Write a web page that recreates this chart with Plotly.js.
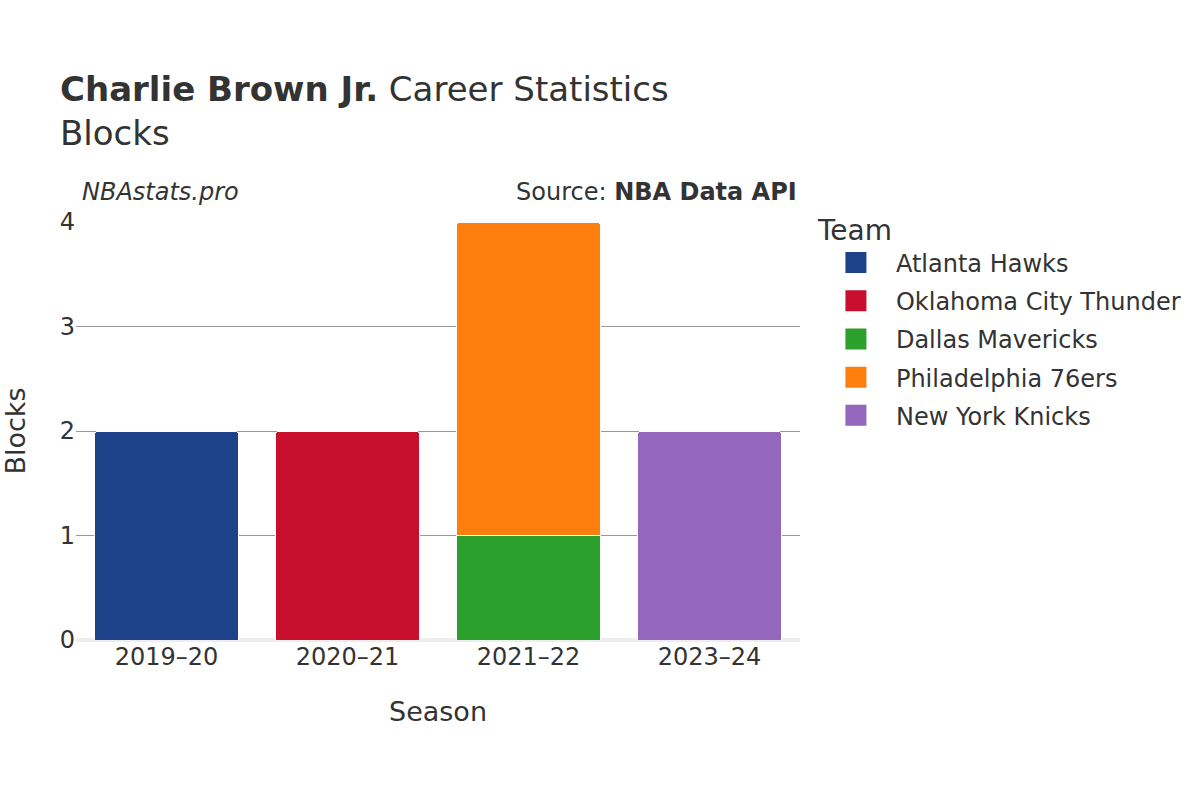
<!DOCTYPE html>
<html>
<head>
<meta charset="utf-8">
<script src="https://cdn.plot.ly/plotly-3.0.1.min.js"></script>
<style>html,body{margin:0;padding:0;background:#fff;}#chart{width:1200px;height:800px;}</style>
</head>
<body>
<div id="chart"></div>
<script>
const seasons = ["2019–20", "2020–21", "2021–22", "2023–24"];
const teams = ["Atlanta Hawks", "Oklahoma City Thunder", "Dallas Mavericks", "Philadelphia 76ers", "New York Knicks"];
const teamColors = ["#1d428a", "#c8102e", "#2ca02c", "#ff7f0e", "#9467bd"];
const teamSeasons = [["2019–20"], ["2020–21"], ["2021–22"], ["2021–22"], ["2023–24"]];
const teamBlocks = [[2], [2], [1], [3], [2]];

const traces = teams.map((t, i) => ({
  type: "bar",
  name: t,
  x: teamSeasons[i],
  y: teamBlocks[i],
  showlegend: false,
  legendgroup: "g" + i,
  marker: {color: teamColors[i], line: {color: "#ffffff", width: 1}},
  hovertemplate: "%{x}: %{y}<extra>" + t + "</extra>"
}));
// legend-only entries (larger square symbols)
teams.forEach((t, i) => traces.push({
  type: "scatter", mode: "markers", name: t,
  legendgroup: "g" + i,
  x: [null], y: [null],
  marker: {color: teamColors[i], symbol: "square", size: 16, line: {color: teamColors[i], width: 5}},
  hoverinfo: "skip"
}));

const font = "DejaVu Sans, sans-serif";
const layout = {
  width: 1200, height: 800,
  barmode: "stack",
  bargap: 0.2,
  barcornerradius: 5,
  paper_bgcolor: "#ffffff",
  plot_bgcolor: "#ffffff",
  font: {family: font, color: "#333333", size: 24},
  margin: {l: 76, r: 400, t: 222, b: 160},
  title: {
    text: "<b>Charlie Brown Jr.</b> Career Statistics<br>Blocks",
    font: {family: font, size: 34, color: "#333333"},
    x: 0.05, xanchor: "left", y: 0.874, yanchor: "top"
  },
  xaxis: {
    categoryorder: "array", categoryarray: seasons,
    title: {text: "Season", font: {size: 27}, standoff: 32},
    tickfont: {size: 24},
    showgrid: false, showline: false, ticks: ""
  },
  yaxis: {
    range: [0, 4.0],
    tickvals: [0, 1, 2, 3, 4],
    title: {text: "Blocks", font: {size: 27}, standoff: 26},
    tickfont: {size: 24},
    gridcolor: "#999999", gridwidth: 1,
    zeroline: true, zerolinecolor: "#eeeeee", zerolinewidth: 4,
    ticks: "", showline: false
  },
  legend: {
    title: {text: "Team", font: {size: 28}},
    font: {size: 24},
    traceorder: "grouped",
    tracegroupgap: 4,
    x: 1.022, xanchor: "left", y: 1.043, yanchor: "top",
    itemwidth: 70
  },
  annotations: [
    {text: "<i>NBAstats.pro</i>", xref: "paper", yref: "paper", x: 0.006, y: 1.072, xanchor: "left", yanchor: "middle", showarrow: false, font: {size: 24, color: "#333333"}},
    {text: "Source: <b>NBA Data API</b>", xref: "paper", yref: "paper", x: 0.999, y: 1.072, xanchor: "right", yanchor: "middle", showarrow: false, font: {size: 24, color: "#333333"}}
  ]
};

Plotly.newPlot("chart", traces, layout, {displayModeBar: false, responsive: false});
</script>
</body>
</html>
